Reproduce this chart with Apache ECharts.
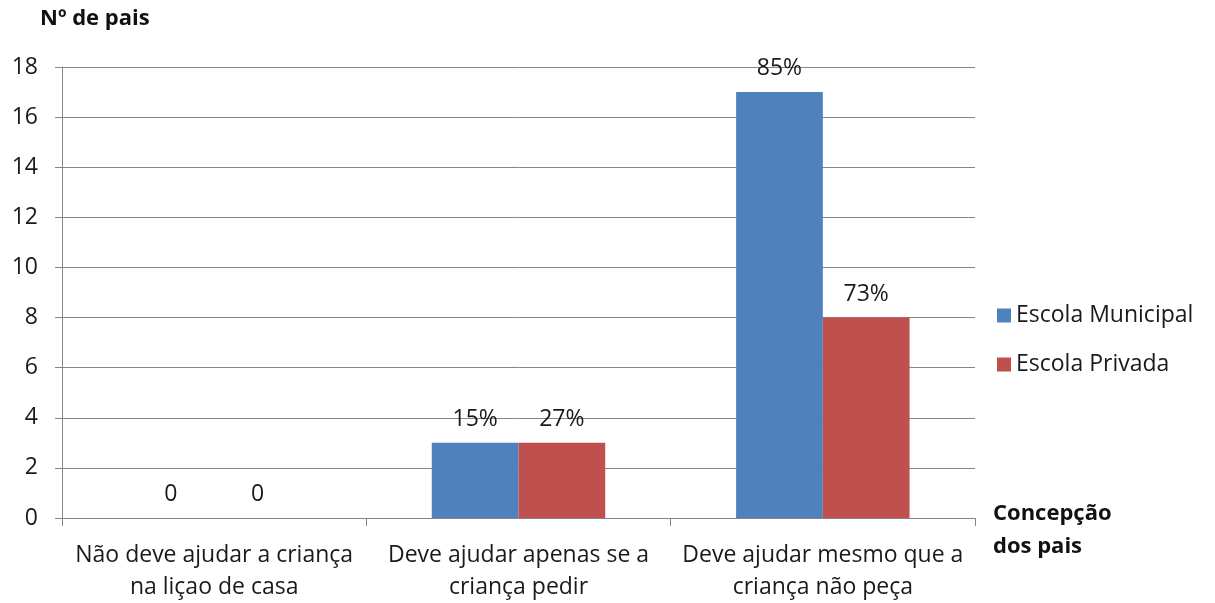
<!DOCTYPE html>
<html>
<head>
<meta charset="utf-8">
<script src="https://cdn.jsdelivr.net/npm/echarts@6/dist/echarts.min.js"></script>
<style>
  html, body { margin: 0; padding: 0; background: #fff; }
  #chart { width: 1215px; height: 603px; }
</style>
</head>
<body>
<div id="chart"></div>
<script>
// Parents' conception of helping children with homework, by school type
const categories = [
  'Não deve ajudar a criança\nna liçao de casa',
  'Deve ajudar apenas se a\ncriança pedir',
  'Deve ajudar mesmo que a\ncriança não peça'
];
const municipal = [0, 3, 17];
const privada = [0, 3, 8];
const municipalPct = ['0', '15%', '85%'];
const privadaPct = ['0', '27%', '73%'];
const yTicks = { min: 0, max: 18, interval: 2 };

const FONT = 'Open Sans';
const SIZE = 23;
const BOLD_SIZE = 22;
const GRID = '#868686';
const INK = '#1a1a1a';

const chart = echarts.init(document.getElementById('chart'));

function labelFor(texts) {
  return {
    show: true,
    position: 'top',
    distance: 12,
    fontFamily: FONT,
    fontSize: SIZE,
    color: INK,
    formatter: p => texts[p.dataIndex]
  };
}

chart.setOption({
  animation: false,
  textStyle: { fontFamily: FONT },
  grid: { left: 62, right: 240, top: 67, bottom: 80 },
  legend: {
    orient: 'vertical',
    left: 992,
    top: 299,
    itemWidth: 14,
    itemHeight: 14,
    itemGap: 26,
    icon: 'rect',
    textStyle: { fontFamily: FONT, fontSize: SIZE, color: INK },
    data: ['Escola Municipal', 'Escola Privada']
  },
  graphic: [
    {
      type: 'text',
      left: 40,
      top: 8,
      style: { text: 'Nº de pais', fontFamily: FONT, fontSize: BOLD_SIZE, fontWeight: 'bold', fill: '#111' }
    },
    {
      type: 'text',
      left: 993,
      top: 497,
      style: {
        text: 'Concepção\ndos pais', fontFamily: FONT, fontSize: BOLD_SIZE, fontWeight: 'bold',
        fill: '#111', lineHeight: 33
      }
    }
  ],
  xAxis: {
    type: 'category',
    data: categories,
    axisLine: { lineStyle: { color: GRID, width: 1 } },
    axisTick: { show: true, length: 8, lineStyle: { color: GRID } },
    axisLabel: { interval: 0, fontFamily: FONT, fontSize: SIZE, color: INK, lineHeight: 32, margin: 21 }
  },
  yAxis: {
    type: 'value',
    min: yTicks.min,
    max: yTicks.max,
    interval: yTicks.interval,
    axisLine: { show: true, lineStyle: { color: GRID, width: 1 } },
    axisTick: { show: true, length: 7, lineStyle: { color: GRID } },
    axisLabel: { fontFamily: FONT, fontSize: SIZE, color: INK, margin: 24 },
    splitLine: { lineStyle: { color: GRID, width: 1 } }
  },
  series: [
    {
      name: 'Escola Municipal',
      type: 'bar',
      data: municipal,
      barGap: '0%',
      barCategoryGap: '43%',
      itemStyle: { color: '#4F81BD' },
      label: labelFor(municipalPct)
    },
    {
      name: 'Escola Privada',
      type: 'bar',
      data: privada,
      itemStyle: { color: '#C0504D' },
      label: labelFor(privadaPct)
    }
  ]
});
</script>
</body>
</html>
